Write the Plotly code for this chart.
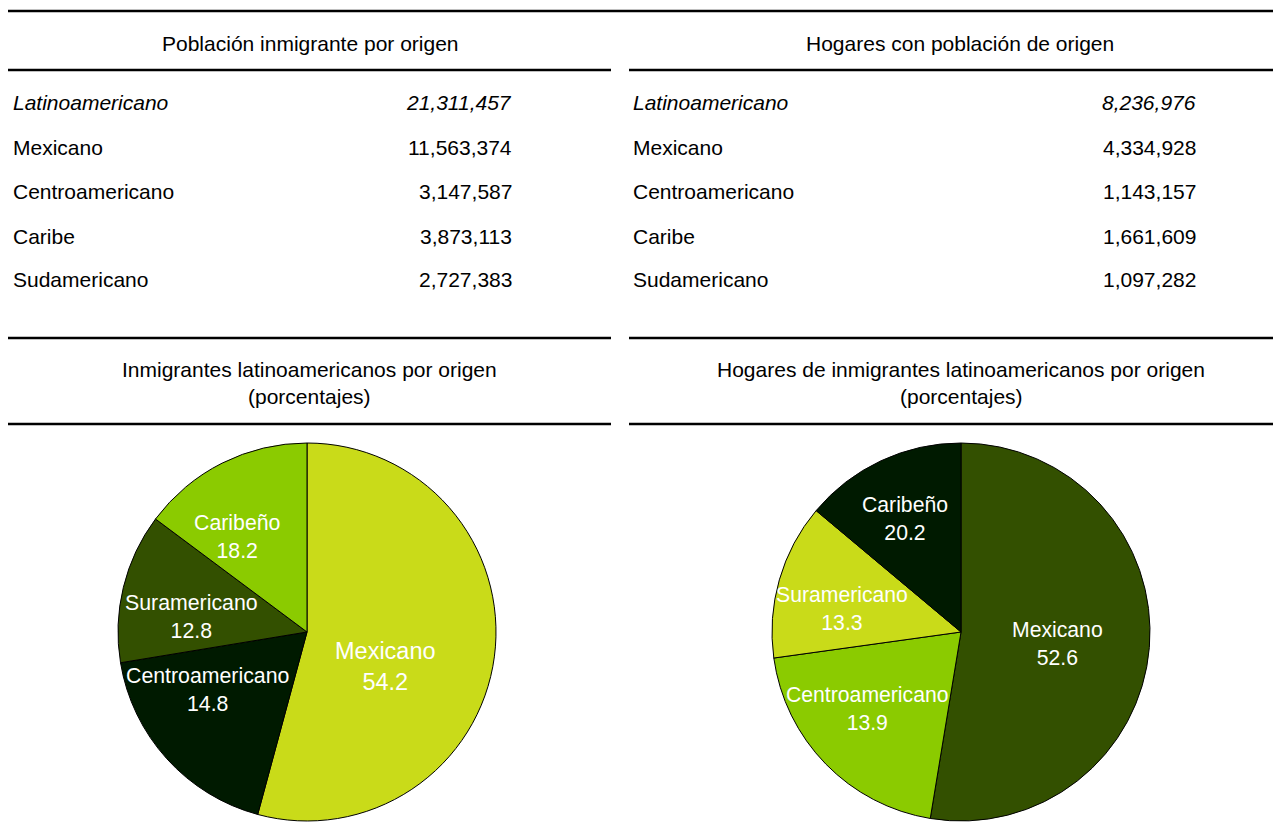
import math
import plotly.graph_objects as go

# ---- data ----
table_titles = ["Población inmigrante por origen", "Hogares con población de origen"]
row_labels = ["Latinoamericano", "Mexicano", "Centroamericano", "Caribe", "Sudamericano"]
pop_values = [21311457, 11563374, 3147587, 3873113, 2727383]
hog_values = [8236976, 4334928, 1143157, 1661609, 1097282]

pie_title_lines = [["Inmigrantes latinoamericanos por origen", "(porcentajes)"],
                   ["Hogares de inmigrantes latinoamericanos por origen", "(porcentajes)"]]

# slices as drawn, clockwise from 12 o'clock (sizes in percent)
slice_pop = [54.2, 18.2, 12.8, 14.8]
slice_hog = [52.6, 20.2, 13.3, 13.9]
# text printed on each of those slices in the original chart
label_names = ["Mexicano", "Centroamericano", "Suramericano", "Caribeño"]
label_pop = [54.2, 14.8, 12.8, 18.2]
label_hog = [52.6, 13.9, 13.3, 20.2]

colors_pop = ["#C9DB19", "#001A00", "#335000", "#8BCB00"]
colors_hog = ["#335000", "#8BCB00", "#C9DB19", "#001A00"]

# label placement styling (radial fraction, angular shift in degrees, font size)
lab_style_pop = [(0.457, 16.3, 23.5), (0.61, 11.9, 21.3), (0.617, -6.1, 21.3), (0.626, -9.6, 21.3)]
lab_style_hog = [(0.516, 1.8, 21.2), (0.64, 5.2, 21.2), (0.64, -5.0, 21.2), (0.672, -1.2, 21.2)]

# The page body has an 8px margin; figure sized to fit the window exactly.
OFF = 8
W, H = 1281 - 2 * OFF, 835 - 2 * OFF
FONT = "Liberation Sans, Arial, sans-serif"


def px(x):
    return (x - OFF) / W


def py(y):
    return 1 - (y - OFF) / H


fig = go.Figure()
annotations = []

R = 189
CY = 632
pie_specs = [
    (slice_pop, label_pop, colors_pop, lab_style_pop, 307),
    (slice_hog, label_hog, colors_hog, lab_style_hog, 961),
]
for vals, labvals, cols, styles, cx in pie_specs:
    fig.add_trace(go.Pie(
        labels=label_names,
        values=vals,
        sort=False,
        direction="clockwise",
        rotation=0,
        marker=dict(colors=cols, line=dict(color="#000000", width=1)),
        textinfo="none",
        hoverinfo="label",
        showlegend=False,
        domain=dict(x=[px(cx - R), px(cx + R)], y=[py(CY + R), py(CY - R)]),
    ))
    total = sum(vals)
    cum = 0.0
    for lab, v, lv, (f, dth, fs) in zip(label_names, vals, labvals, styles):
        mid = (cum + v / 2) / total * 360.0
        cum += v
        th = math.radians(mid + dth)
        lx = cx + f * R * math.sin(th)
        ly = CY - f * R * math.cos(th)
        annotations.append(dict(text=f"{lab}<br>{lv:.1f}", x=px(lx), y=py(ly), xref="paper", yref="paper",
                                xanchor="center", yanchor="middle", showarrow=False, align="center",
                                font=dict(family=FONT, size=fs, color="white")))

shapes = []
line = dict(color="black", width=2.5)
shapes.append(dict(type="line", xref="paper", yref="paper", x0=px(8), x1=px(1281), y0=py(11), y1=py(11), line=line))
for y in [70, 338, 424]:
    shapes.append(dict(type="line", xref="paper", yref="paper", x0=px(8), x1=px(611), y0=py(y), y1=py(y), line=line))
    shapes.append(dict(type="line", xref="paper", yref="paper", x0=px(629), x1=px(1281), y0=py(y), y1=py(y), line=line))

text_font = dict(family=FONT, size=21, color="black")

row_y = [102, 147, 191, 236, 280]
for title, values, tcx, lx, rx in [
    (table_titles[0], pop_values, 310, 11, 514),
    (table_titles[1], hog_values, 960, 631, 1198),
]:
    annotations.append(dict(text=title, x=px(tcx), y=py(44), xref="paper", yref="paper",
                            xanchor="center", yanchor="middle", showarrow=False, font=text_font))
    for i, (lab, v) in enumerate(zip(row_labels, values)):
        s = f"{v:,}"
        t_lab = f"<i>{lab}</i>" if i == 0 else lab
        t_val = f"<i>{s}</i>" if i == 0 else s
        annotations.append(dict(text=t_lab, x=px(lx), y=py(row_y[i]), xref="paper", yref="paper",
                                xanchor="left", yanchor="middle", showarrow=False, font=text_font))
        annotations.append(dict(text=t_val, x=px(rx), y=py(row_y[i]), xref="paper", yref="paper",
                                xanchor="right", yanchor="middle", showarrow=False, font=text_font))

for lines_, cx in [(pie_title_lines[0], 309), (pie_title_lines[1], 961)]:
    for t, yy in zip(lines_, [369, 396]):
        annotations.append(dict(text=t, x=px(cx), y=py(yy), xref="paper", yref="paper",
                                xanchor="center", yanchor="middle", showarrow=False, font=text_font))

fig.update_layout(
    width=W, height=H,
    margin=dict(l=0, r=0, t=0, b=0),
    paper_bgcolor="white", plot_bgcolor="white",
    font=dict(family=FONT),
    shapes=shapes,
    annotations=annotations,
)

fig.write_html("out.html")
